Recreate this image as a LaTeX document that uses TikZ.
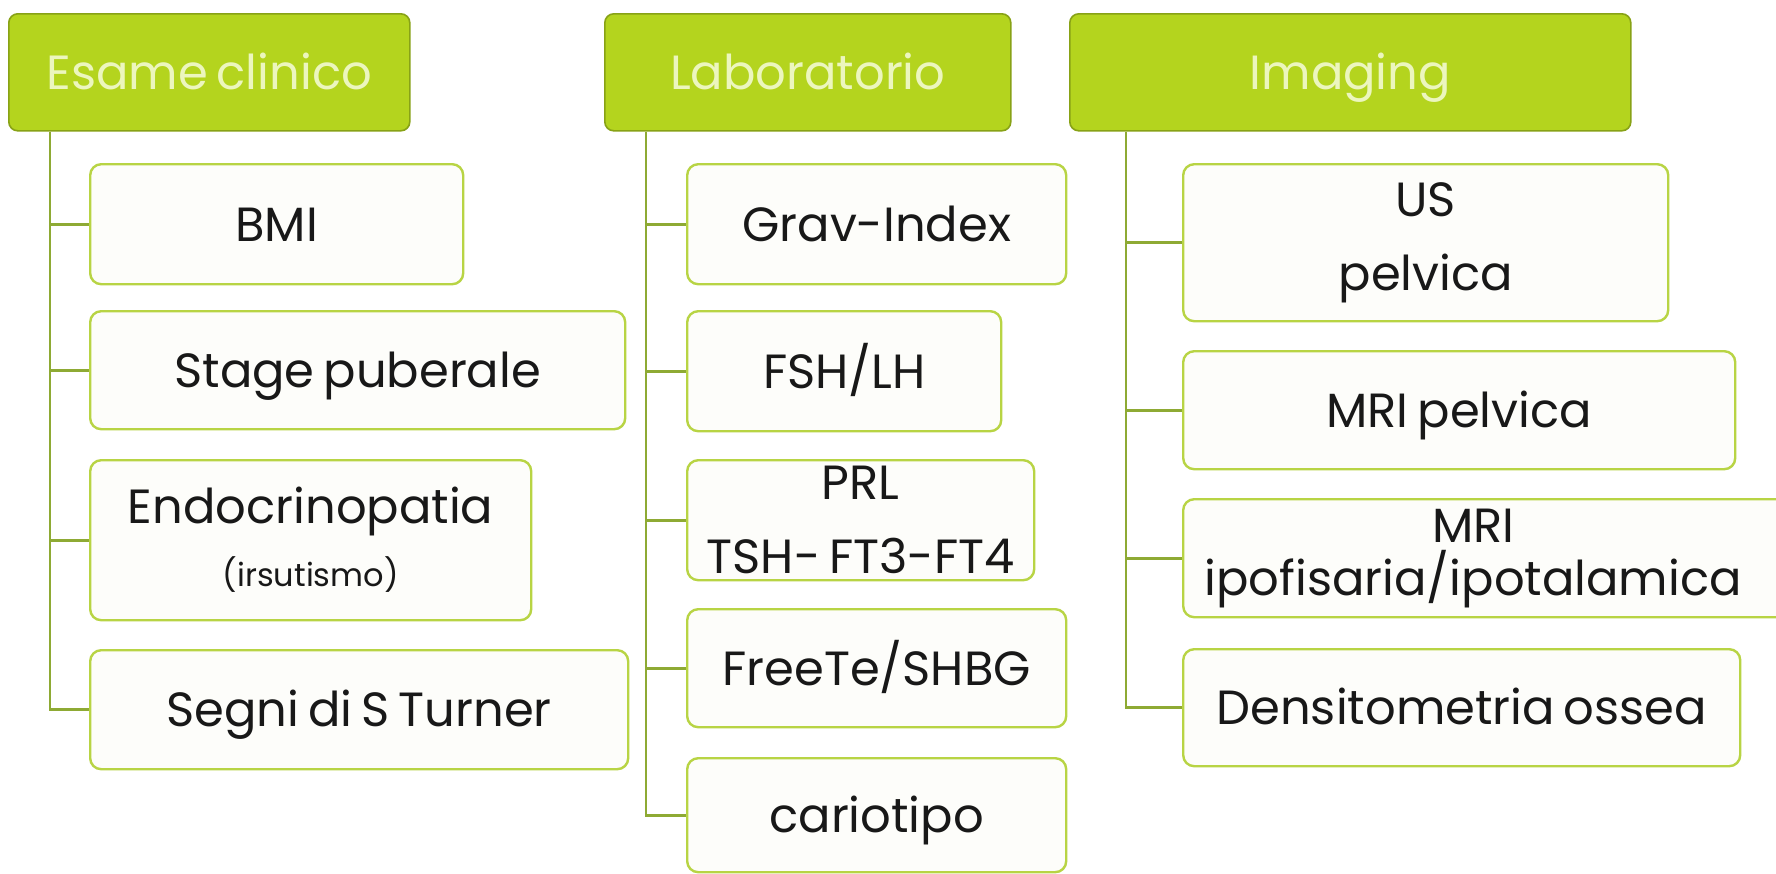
\documentclass[tikz,border=0pt]{standalone}
\usepackage{fontspec}
\setmainfont[WordSpace=0.7]{Poppins}
\usetikzlibrary{calc}
\definecolor{hdrfill}{RGB}{180,212,30}
\definecolor{hdrline}{RGB}{136,162,22}
\definecolor{hdrtext}{RGB}{236,246,190}
\definecolor{boxline}{RGB}{184,212,68}
\definecolor{boxfill}{RGB}{253,253,250}
\definecolor{connline}{RGB}{142,170,52}
\definecolor{txt}{RGB}{24,24,24}
\begin{document}
\begin{tikzpicture}[x=1pt,y=-1pt,
  hdr/.style={draw=hdrline, line width=1.6pt, fill=hdrfill, rounded corners=9pt,
    anchor=north west, inner sep=0pt, text=hdrtext,
    font=\fontsize{48}{58}\selectfont, text height=34pt, text depth=0pt},
  cbox/.style={draw=boxline, line width=2.4pt, fill=boxfill, rounded corners=11pt,
    anchor=north west, inner sep=0pt, text=txt, align=center,
    font=\fontsize{48}{74}\selectfont},
  one/.style={text height=34pt, text depth=0pt},
  conn/.style={draw=connline, line width=2.6pt}]
\useasboundingbox (0,0) rectangle (1776,873);
\fill[white] (0,0) rectangle (1776,873);

% headers
\node[hdr, minimum width=401pt, minimum height=117pt] (h1) at (8,13) {Esame clinico};
\node[hdr, minimum width=406pt, minimum height=117pt] (h2) at (604,13) {Laboratorio};
\node[hdr, minimum width=561pt, minimum height=117pt] (h3) at (1069,13) {Imaging};

% column 1
\node[cbox, one, minimum width=373pt, minimum height=120pt] (bmi) at (89,163) {BMI};
\node[cbox, one, minimum width=535pt, minimum height=118pt] (stage) at (89,310) {Stage puberale};
\node[cbox, minimum width=441pt, minimum height=160pt,
  font=\fontsize{48}{63}\selectfont] (endo) at (89,459)
  {Endocrinopatia\\{\fontsize{32}{38}\selectfont (irsutismo)}};
\node[cbox, one, minimum width=538pt, minimum height=119pt] (segni) at (89,649) {Segni di S Turner};

% column 2
\node[cbox, one, minimum width=379pt, minimum height=120pt] (grav) at (686,163) {Grav-Index};
\node[cbox, one, minimum width=314pt, minimum height=120pt] (fsh) at (686,310) {FSH/LH};
\node[cbox, minimum width=347pt, minimum height=120pt] (prl) at (686,459) {PRL\\TSH- FT3-FT4};
\node[cbox, one, minimum width=379pt, minimum height=118pt] (free) at (686,608) {FreeTe/SHBG};
\node[cbox, one, minimum width=379pt, minimum height=114pt] (cario) at (686,757) {cariotipo};

% column 3
\node[cbox, minimum width=485pt, minimum height=157pt] (us) at (1182,163) {US\\pelvica};
\node[cbox, one, minimum width=552pt, minimum height=118pt] (mrip) at (1182,350) {MRI pelvica};
\node[cbox, minimum width=618pt, minimum height=118pt,
  font=\fontsize{48}{53}\selectfont] (mrii) at (1182,498)
  {MRI\hspace*{38pt}\\ipofisaria/ipotalamica\hspace*{38pt}};
\node[cbox, one, minimum width=557pt, minimum height=117pt] (dens) at (1182,648) {Densitometria ossea};

% connectors
\coordinate (v1) at ([xshift=42pt]h1.south west);
\coordinate (v2) at ([xshift=42pt]h2.south west);
\coordinate (v3) at ([xshift=57pt]h3.south west);
\draw[conn] (v1) |- (segni.west);
\foreach \n in {bmi,stage,endo} \draw[conn] (v1 |- \n.west) -- (\n.west);
\draw[conn] (v2) |- (cario.west);
\foreach \n in {grav,fsh,prl,free} \draw[conn] (v2 |- \n.west) -- (\n.west);
\draw[conn] (v3) |- (dens.west);
\foreach \n in {us,mrip,mrii} \draw[conn] (v3 |- \n.west) -- (\n.west);
\end{tikzpicture}
\end{document}
